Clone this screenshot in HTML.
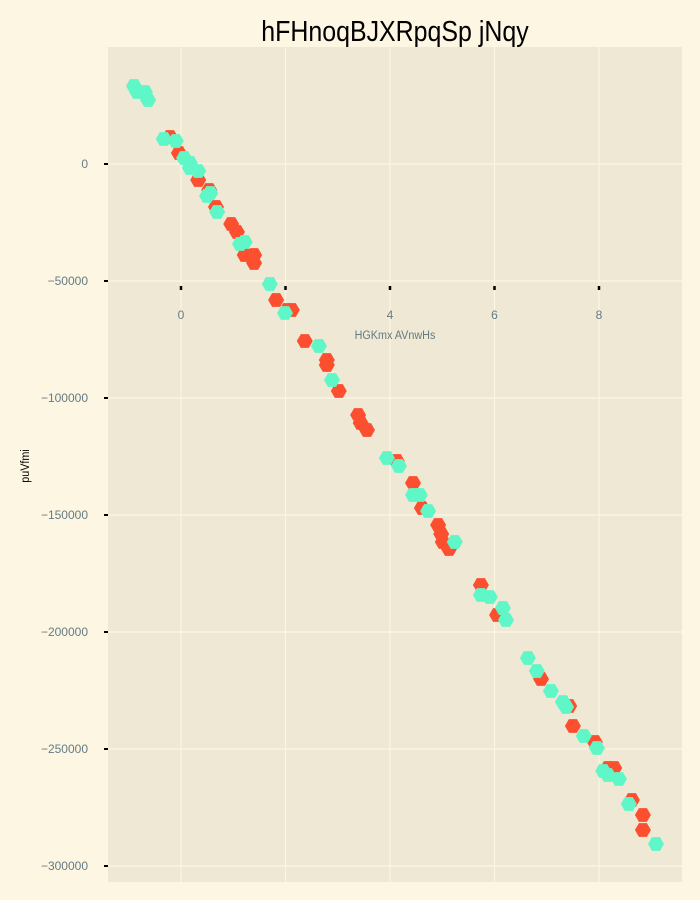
<!DOCTYPE html>
<html><head><meta charset="utf-8"><style>
body{margin:0;background:#fdf6e3;}
svg{display:block;font-family:"Liberation Sans",sans-serif;}
</style></head><body>
<svg id="chart" width="700" height="900">
<rect x="0" y="0" width="700" height="900" fill="#fdf6e3"/>
<rect x="108" y="47" width="574" height="835" fill="#eee8d5"/>
<g id="grid"></g>
<g id="axes"></g>
<g id="marks"></g>
<text x="395" y="41" text-anchor="middle" font-size="29" fill="#000" transform="translate(395,0) scale(0.86,1) translate(-395,0)">hFHnoqBJXRpqSp jNqy</text>
<text x="395" y="339" text-anchor="middle" font-size="12" fill="#657b83" transform="translate(395,0) scale(0.9,1) translate(-395,0)">HGKmx AVnwHs</text>
<text x="0" y="0" text-anchor="middle" font-size="12" fill="#000" transform="translate(29,466) rotate(-90) scale(0.9,1)">puVfmi</text>
</svg>
<script>
const xTicks=[0,2,4,6,8];
const yTicks=[0,-50000,-100000,-150000,-200000,-250000,-300000];
const yTickLabels=["0","−50000","−100000","−150000","−200000","−250000","−300000"];
const redX=[-0.21,-0.04,0.33,0.54,0.67,0.96,1.07,1.22,1.40,1.40,1.82,2.03,2.12,2.37,2.79,2.79,3.02,3.39,3.44,3.56,4.13,4.44,4.61,4.92,4.98,5.01,5.13,5.74,6.05,6.89,7.43,7.50,7.92,8.17,8.29,8.63,8.84,8.84];
const redY=[11540,4700,-6840,-11110,-18380,-25640,-29060,-38890,-38890,-42310,-58120,-62390,-62390,-75640,-83760,-85900,-97010,-107270,-110690,-113680,-126920,-136320,-147010,-154270,-158120,-161540,-164530,-179910,-192740,-220090,-231620,-240170,-247010,-258120,-258120,-271800,-278200,-284620];
const tealX=[-0.90,-0.84,-0.69,-0.63,-0.33,-0.10,0.06,0.17,0.17,0.33,0.50,0.56,0.69,1.13,1.22,1.70,1.99,2.64,2.89,3.94,4.17,4.44,4.57,4.73,5.24,5.74,5.91,6.16,6.22,6.64,6.81,7.08,7.31,7.37,7.71,7.96,8.08,8.17,8.38,8.57,9.09];
const tealY=[33330,30770,30770,27350,10680,9830,2560,430,-1710,-2990,-13680,-12390,-20510,-34190,-33330,-51280,-63680,-77780,-92310,-125640,-129060,-141450,-141450,-148290,-161540,-184190,-185040,-189740,-194870,-211110,-216670,-225210,-229910,-232050,-244440,-249570,-259400,-261110,-262820,-273500,-290600];
const NS="http://www.w3.org/2000/svg";
const xs=v=>181+v*52.25;
const ys=v=>164-v*117/50000;
function mk(tag,attrs,parent){const e=document.createElementNS(NS,tag);for(const k in attrs)e.setAttribute(k,attrs[k]);parent.appendChild(e);return e;}
const grid=document.getElementById('grid'),axes=document.getElementById('axes'),marks=document.getElementById('marks');
xTicks.forEach(t=>{
  const l=mk('line',{x1:xs(t),x2:xs(t),y1:47,y2:882,stroke:'#fdf6e3','stroke-width':1.2},grid);
  
  
  const tk=mk('line',{x1:xs(t),x2:xs(t),y1:286,y2:290,stroke:'#000','stroke-width':2.5},axes);
  
  
  const tx=mk('text',{x:xs(t),y:319,'text-anchor':'middle','font-size':12,fill:'#657b83'},axes);
  tx.textContent=String(t);
  
  
});
yTicks.forEach((t,i)=>{
  const l=mk('line',{x1:108,x2:682,y1:ys(t),y2:ys(t),stroke:'#fdf6e3','stroke-width':1.2},grid);
  
  
  const tk=mk('line',{x1:104,x2:108,y1:ys(t),y2:ys(t),stroke:'#000','stroke-width':2},axes);
  
  
  const tx=mk('text',{x:88,y:ys(t)+4,'text-anchor':'end','font-size':12,fill:'#657b83'},axes);
  tx.textContent=yTickLabels[i];
  
  
});
function hex(cx,cy,r){let p=[];for(let k=0;k<6;k++){const a=Math.PI/3*k;p.push((cx+r*Math.cos(a)).toFixed(1)+','+(cy+r*Math.sin(a)).toFixed(1));}return p.join(' ');}
redX.forEach((v,i)=>{
  const h=mk('polygon',{points:hex(xs(v),ys(redY[i]),8),fill:'#fc4f30'},marks);
  
  
});
tealX.forEach((v,i)=>{
  const h=mk('polygon',{points:hex(xs(v),ys(tealY[i]),8),fill:'#60f7c8'},marks);
  
  
});
</script>
</body></html>
